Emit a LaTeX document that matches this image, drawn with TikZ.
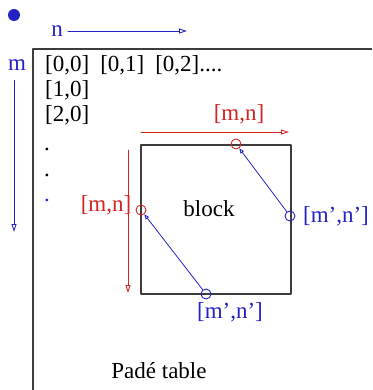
\documentclass[tikz,border=0pt]{standalone}
\usepackage{fontspec}
\setmainfont{Liberation Serif}
\usetikzlibrary{arrows.meta}
\definecolor{padeblue}{RGB}{35,35,195}
\definecolor{padered}{RGB}{212,36,36}
\definecolor{edgegray}{RGB}{60,60,60}

\begin{document}
\begin{tikzpicture}[x=1pt,y=-1pt,line cap=round,line join=round,
  lbl/.style={inner sep=0pt,font=\fontsize{23}{27}\selectfont},
  bigtip/.style={-{Triangle[open,length=8pt,width=5pt]}},
  smalltip/.style={-{Triangle[open,length=5pt,width=4pt]}},
  ring/.style={circle,draw,inner sep=0pt,minimum size=10pt,line width=0.9pt}]
  \useasboundingbox (0,0) rectangle (372,390);
  \coordinate (Tl) at (33,49);
  \coordinate (Tr) at (372,49);
  \coordinate (Bl) at (33,390);
  \coordinate (K1) at (141,145);
  \coordinate (K2) at (291,294);
  \coordinate (nEnd) at (187,31);
  \coordinate (mEnd) at (14,232);
  \coordinate (Hs) at (141,132);
  \coordinate (He) at (289,132);
  \coordinate (Vs) at (128,150);
  \coordinate (Ve) at (128,293);
  % table frame and block
  \draw[edgegray,line width=1.3pt,line cap=butt] (Tr) -- (Tl) -- (Bl);
  \draw[edgegray,line width=1.3pt] (K1) rectangle (K2);
  \fill[padeblue] (14,15) circle (6);
  % indices
  \node[lbl,padeblue] (n) at (57,31) {n};
  \node[lbl,padeblue] (m) at (17,65) {m};
  \draw[padeblue,line width=0.9pt,bigtip,shorten <=5pt] (n.east) -- (nEnd);
  \draw[padeblue,line width=0.9pt,bigtip,shorten <=10pt] (m.south -| mEnd) -- (mEnd);
  % entries
  \node[lbl,anchor=west] (r0) at (45,65) {[0,0]\hspace{11pt}[0,1]\hspace{11pt}[0,2]....};
  \node[lbl,anchor=west] (r1) at (45,90) {[1,0]};
  \node[lbl,anchor=west] (r2) at (45,115) {[2,0]};
  \node[lbl,anchor=base] (d1) at (47,150) {.};
  \node[lbl,anchor=base] (d2) at (47,176) {.};
  \node[lbl,anchor=base,padeblue] (d3) at (47,201) {.};
  \node[lbl] (blk) at (209,209) {block};
  \node[lbl] (pt) at (159,371) {Padé table};
  % directions in the block
  \draw[padered,line width=0.9pt,bigtip] (Hs) -- (He);
  \draw[padered,line width=0.9pt,bigtip] (Vs) -- (Ve);
  \node[lbl,padered] (mnTop) at (239,114) {[m,n]};
  \node[lbl,padered] (mnLeft) at (106,205) {[m,n]};
  \node[ring,padered] (T) at (236,144) {};
  \node[ring,padered] (L) at (141,210) {};
  \node[ring,padeblue] (R) at (290,216) {};
  \node[ring,padeblue] (B) at (206,294) {};
  \draw[padeblue,line width=0.8pt,smalltip] (R) -- (T);
  \draw[padeblue,line width=0.8pt,smalltip] (B) -- (L);
  \node[lbl,padeblue] (mpRight) at (336,216) {[m',n']};
  \node[lbl,padeblue] (mpBottom) at (230,312) {[m',n']};
\end{tikzpicture}
\end{document}
